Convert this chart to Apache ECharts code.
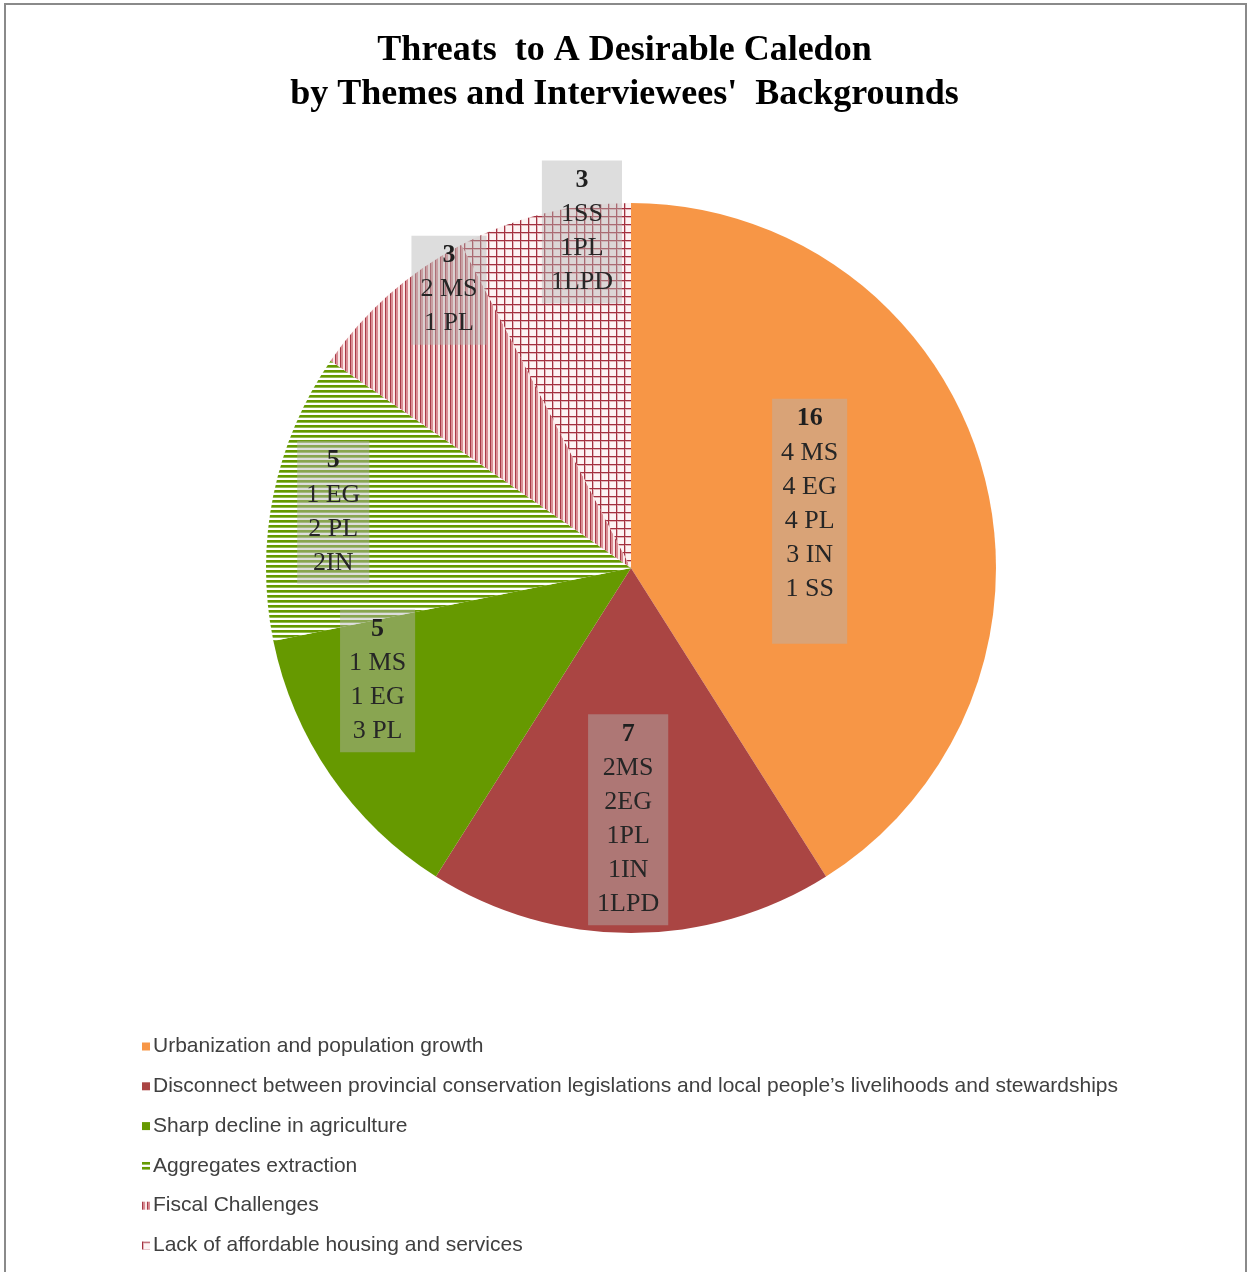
<!DOCTYPE html>
<html><head><meta charset="utf-8">
<script src="https://cdn.jsdelivr.net/npm/echarts@6/dist/echarts.min.js"></script>
<style>html,body{margin:0;padding:0;background:#fff}#c{width:1249px;height:1272px}</style>
</head><body><div id="c"></div>
<script>
// ---- data ----
const categories = [
  'Urbanization and population growth',
  'Disconnect between provincial conservation legislations and local people\u2019s livelihoods and stewardships',
  'Sharp decline in agriculture',
  'Aggregates extraction',
  'Fiscal Challenges',
  'Lack of affordable housing and services'
];
const values = [16, 7, 5, 5, 3, 3];
const breakdowns = [
  ['4 MS', '4 EG', '4 PL', '3 IN', '1 SS'],
  ['2MS', '2EG', '1PL', '1IN', '1LPD'],
  ['1 MS', '1 EG', '3 PL'],
  ['1 EG', '2 PL', '2IN'],
  ['2 MS', '1 PL'],
  ['1SS', '1PL', '1LPD']
];
const titleText = 'Threats  to A Desirable Caledon\nby Themes and Interviewees\'  Backgrounds';

// ---- style ----
const CX = 631, CY = 568, R = 365;
// label placement: [fraction of radius, fraction of angle within slice]
const labelPlace = [[0.506, 0.51], [0.69, 0.51], [0.76, 0.73], [0.83, 0.48], [0.91, 0.80], [0.93, 0.70]];
const labelPadBottom = [38, 4, 4, 4, 4, 4];

function makePattern(w, h, draw) {
  const c = document.createElement('canvas');
  c.width = w; c.height = h;
  const g = c.getContext('2d');
  draw(g);
  return { image: c, repeat: 'repeat' };
}
const patAggregates = makePattern(5, 5, g => {
  g.fillStyle = '#ffffff'; g.fillRect(0, 0, 5, 5);
  g.fillStyle = '#669900'; g.fillRect(0, 0, 5, 2);
  g.fillStyle = '#94bc52'; g.fillRect(0, 2, 5, 1);
});
const patFiscal = makePattern(5, 5, g => {
  g.fillStyle = '#fae8e8'; g.fillRect(0, 0, 5, 5);
  g.fillStyle = '#a83a48'; g.fillRect(0, 0, 1, 5);
  g.fillStyle = '#d98e94'; g.fillRect(1, 0, 2, 5);
});
const patHousing = makePattern(8, 8, g => {
  g.fillStyle = '#fdf3f3'; g.fillRect(0, 0, 8, 8);
  g.fillStyle = '#e2b4b8'; g.fillRect(0, 1, 8, 1); g.fillRect(1, 0, 1, 8);
  g.fillStyle = '#a3303f'; g.fillRect(0, 0, 8, 1); g.fillRect(0, 0, 1, 8);
});
const colors = ['#F79646', '#AA4543', '#669900', patAggregates, patFiscal, patHousing];

const total = values.reduce((a, b) => a + b, 0);
const starts = values.map((v, i) => values.slice(0, i).reduce((a, b) => a + b, 0));

const data = categories.map((name, i) => ({
  name: name,
  value: values[i],
  itemStyle: { color: colors[i] },
  label: {
    formatter: '{b|' + values[i] + '}\n' + breakdowns[i].map(s => '{t|' + s + '}').join('\n'),
    padding: [3, 9, labelPadBottom[i], 9]
  }
}));

const chart = echarts.init(document.getElementById('c'), null, { renderer: 'canvas' });
chart.setOption({
  backgroundColor: '#ffffff',
  animation: false,
  title: {
    text: titleText,
    left: 'center',
    top: 24,
    textStyle: {
      fontFamily: 'Liberation Serif', fontWeight: 'bold', fontSize: 36, lineHeight: 44, color: '#000'
    }
  },
  graphic: [{
    type: 'rect', silent: true,
    shape: { x: 5, y: 4, width: 1241, height: 1320 },
    style: { fill: 'none', stroke: '#8a8a8a', lineWidth: 2 }
  }],
  legend: {
    orient: 'vertical',
    left: 137, top: 1031,
    itemWidth: 8, itemHeight: 8, itemGap: 18.8,
    icon: 'rect',
    selectedMode: false,
    textStyle: { fontFamily: 'Liberation Sans', fontSize: 21, lineHeight: 21, color: '#404040', padding: [0, 0, 0, -2] },
    data: categories
  },
  series: [{
    type: 'pie',
    center: [CX, CY],
    radius: R,
    startAngle: 90,
    clockwise: true,
    avoidLabelOverlap: false,
    itemStyle: { borderWidth: 0 },
    labelLine: { show: false },
    emphasis: { disabled: true },
    label: {
      show: true,
      position: 'inside',
      backgroundColor: 'rgba(180,180,180,0.45)',
      color: '#262626',
      rich: {
        b: { fontFamily: 'Liberation Serif', fontWeight: 'bold', fontSize: 26, lineHeight: 34, color: '#1f1f1f', align: 'center' },
        t: { fontFamily: 'Liberation Serif', fontSize: 26, lineHeight: 34, color: '#262626', align: 'center' }
      }
    },
    labelLayout: function (p) {
      const i = p.dataIndex;
      const pl = labelPlace[i];
      const ang = (starts[i] + pl[1] * values[i]) / total * 2 * Math.PI;
      return {
        x: CX + R * pl[0] * Math.sin(ang),
        y: CY - R * pl[0] * Math.cos(ang),
        align: 'center',
        verticalAlign: 'middle'
      };
    },
    data: data
  }]
});
</script></body></html>
